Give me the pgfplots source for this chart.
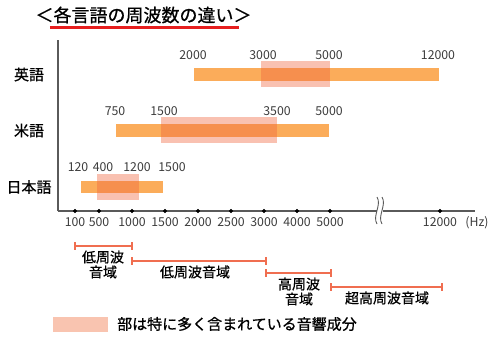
\documentclass[border=0pt]{standalone}
\usepackage{fontspec}
\setmainfont{Noto Sans CJK JP}
\newfontfamily\medfont[FakeBold=0.8]{Noto Sans CJK JP}
\usepackage{pgfplots}
\pgfplotsset{compat=1.18}
\definecolor{barorange}{RGB}{251,172,90}
\definecolor{pinkover}{RGB}{240,100,60}
\definecolor{pinksolid}{RGB}{249,196,176}
\definecolor{bracketred}{RGB}{240,110,80}
\definecolor{axgray}{RGB}{90,90,90}
\definecolor{txtgray}{RGB}{60,60,60}
\definecolor{titlered}{RGB}{230,30,30}
\begin{document}
\begin{tikzpicture}
% x positions are the chart's own (non-linear) frequency scale:
% 100->75, 500->99, 1000->132, 1500->165, 2000->198, 2500->231,
% 3000->264, 4000->297, 5000->330, 12000->440
\begin{axis}[
  scale only axis, width=417bp, height=171bp,
  xmin=58, xmax=475, ymin=128, ymax=299,
  enlargelimits=false, clip=false,
  axis x line=bottom, axis y line=left,
  axis line style={-, axgray, line width=1.3bp},
  xtick={75,99,132,165,198,231,264,297,330,440},
  xticklabels={100,500,1000,1500,2000,2500,3000,4000,5000,12000},
  ytick={264.5,208.5,152},
  yticklabels={英語,米語,日本語},
  major tick length=0pt,
  /pgf/number format/assume math mode=true,
  xticklabel style={font=\fontsize{12.3bp}{14bp}\selectfont, text=txtgray, yshift=-3bp},
  yticklabel style={font=\medfont\fontsize{15bp}{17bp}\selectfont, anchor=center, xshift=-29bp},
]
% orange ranges
\addplot[fill=barorange, draw=none] coordinates {(194,258) (439,258) (439,271) (194,271)} --cycle;
\addplot[fill=barorange, draw=none] coordinates {(116,202) (329,202) (329,215) (116,215)} --cycle;
\addplot[fill=barorange, draw=none] coordinates {(81,146) (163,146) (163,158) (81,158)} --cycle;
% main components (pink overlay)
\addplot[fill=pinkover, fill opacity=0.4, draw=none] coordinates {(261,252) (330,252) (330,278) (261,278)} --cycle;
\addplot[fill=pinkover, fill opacity=0.4, draw=none] coordinates {(161,196) (277,196) (277,222) (161,222)} --cycle;
\addplot[fill=pinkover, fill opacity=0.4, draw=none] coordinates {(97,139) (139,139) (139,165) (97,165)} --cycle;
% tick dots
\addplot[only marks, mark=*, mark size=1.8bp, black] coordinates {(75,128) (99,128) (132,128) (165,128) (198,128) (231,128) (264,128) (297,128) (330,128) (440,128)};
% axis break
\fill[white] (axis cs:377,124) rectangle (axis cs:383,132);
\draw[axgray, line width=0.9bp] (axis cs:377,142) .. controls (axis cs:382,134) and (axis cs:372,123) .. (axis cs:377,115);
\draw[axgray, line width=0.9bp] (axis cs:382,142) .. controls (axis cs:387,134) and (axis cs:377,123) .. (axis cs:382,115);
% value labels
\begin{scope}[every node/.style={font=\fontsize{12.3bp}{14bp}\selectfont, text=txtgray, inner sep=0pt}]
\node at (axis cs:193,284) {2000};
\node at (axis cs:263,284) {3000};
\node at (axis cs:329,284) {5000};
\node at (axis cs:438,284) {12000};
\node at (axis cs:115,228) {750};
\node at (axis cs:164,228) {1500};
\node at (axis cs:277,228) {3500};
\node at (axis cs:329,228) {5000};
\node at (axis cs:78,172) {120};
\node at (axis cs:103,172) {400};
\node at (axis cs:137,172) {1200};
\node at (axis cs:172,172) {1500};
\node at (axis cs:477,116) {(Hz)};
\end{scope}
% range brackets
\addplot[bracketred, line width=1.5bp, mark=|, mark size=4bp, mark options={line width=1.3bp}] coordinates {(75,93) (132,93)};
\addplot[bracketred, line width=1.5bp, mark=|, mark size=4bp, mark options={line width=1.3bp}] coordinates {(132,78) (266,78)};
\addplot[bracketred, line width=1.5bp, mark=|, mark size=4bp, mark options={line width=1.3bp}] coordinates {(266,66) (331,66)};
\addplot[bracketred, line width=1.5bp, mark=|, mark size=4bp, mark options={line width=1.3bp}] coordinates {(331,52) (442,52)};
\begin{scope}[every node/.style={font=\medfont\fontsize{14bp}{15bp}\selectfont, inner sep=0pt, align=center}]
\node at (axis cs:103,74.5) {低周波\\音域};
\node at (axis cs:195,67) {低周波音域};
\node at (axis cs:299,47.5) {高周波\\音域};
\node at (axis cs:387,41) {超高周波音域};
\end{scope}
% legend
\addplot[fill=pinksolid, draw=none] coordinates {(53,7) (108,7) (108,22) (53,22)} --cycle;
\node[anchor=west, inner sep=0pt, font=\medfont\fontsize{15bp}{17bp}\selectfont] at (axis cs:117,15) {部は特に多く含まれている音響成分};
% title
\node[inner sep=0pt, font=\medfont\fontsize{18bp}{20bp}\selectfont] at (axis cs:143.5,324) {＜各言語の周波数の違い＞};
\draw[titlered, line width=2.5bp] (axis cs:50,311.5) -- (axis cs:239,311.5);
% canvas
\path (axis cs:0,0) rectangle (axis cs:500,339);
\end{axis}
\end{tikzpicture}
\end{document}
